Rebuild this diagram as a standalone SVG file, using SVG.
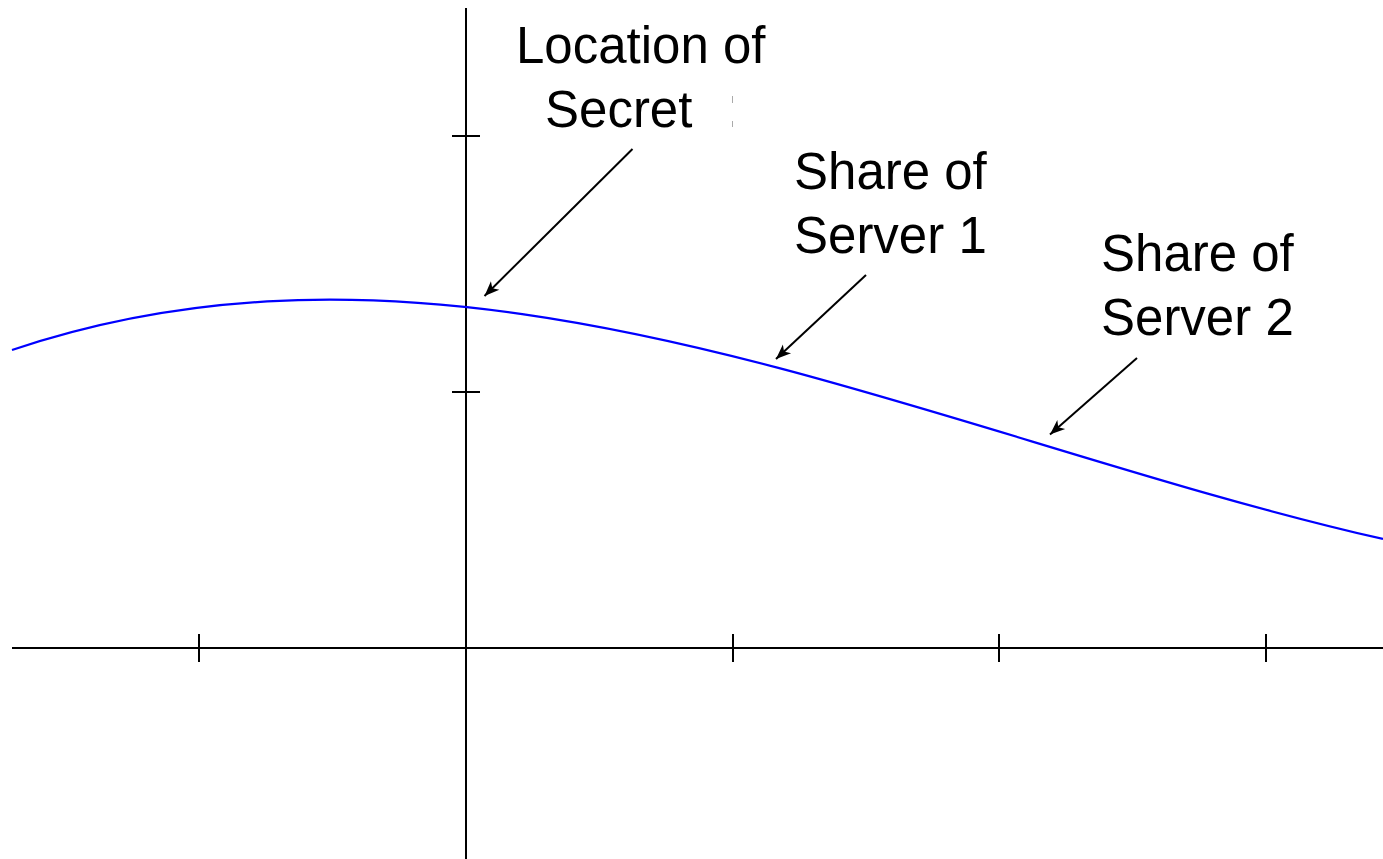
<svg xmlns="http://www.w3.org/2000/svg" width="1383" height="859" viewBox="0 0 1383 859">
  <style>
    .axis { stroke: #000; stroke-width: 2; fill: none; }
    .tick { stroke: #000; stroke-width: 2; fill: none; }
    .curve { stroke: #0000ff; stroke-width: 2.2; fill: none; }
    .arrow { stroke: #000; stroke-width: 2; fill: none; marker-end: url(#ah); }
    .lbl { font-family: "Liberation Sans", Arial, sans-serif; font-size: 51px; fill: #000; }
  </style>
  <defs>
    <marker id="ah" markerUnits="userSpaceOnUse" markerWidth="20" markerHeight="14" viewBox="-16 -7 18 14" refX="0" refY="0" orient="auto">
      <path d="M0,0 L-15,-6 L-11,0 L-15,6 z" fill="#000"/>
    </marker>
  </defs>
  <rect width="1383" height="859" fill="#fff"/>

  <g id="axes">
    <line class="axis" x1="466" y1="8" x2="466" y2="859"/>
    <line class="axis" x1="12" y1="648" x2="1383" y2="648"/>
    <line class="tick" x1="452" y1="136" x2="480" y2="136"/>
    <line class="tick" x1="452" y1="392" x2="480" y2="392"/>
    <line class="tick" x1="452" y1="648" x2="480" y2="648"/>
    <line class="tick" x1="199" y1="634" x2="199" y2="662"/>
    <line class="tick" x1="733" y1="634" x2="733" y2="662"/>
    <line class="tick" x1="999" y1="634" x2="999" y2="662"/>
    <line class="tick" x1="1266" y1="634" x2="1266" y2="662"/>
  </g>

  <g id="curve">
    <path class="curve" d="M12,350 C469,196 926,435 1383,539"/>
  </g>

  <g id="label-secret">
    <text class="lbl" x="516" y="63">Location of</text>
    <text class="lbl" x="545" y="127">Secret</text>
    <line x1="732.5" y1="96" x2="732.5" y2="103" stroke="#aaa" stroke-width="1"/>
    <line x1="732.5" y1="121" x2="732.5" y2="127" stroke="#aaa" stroke-width="1"/>
  </g>
  <g id="label-server1">
    <text class="lbl" x="794" y="189">Share of</text>
    <text class="lbl" x="794" y="253">Server 1</text>
  </g>
  <g id="label-server2">
    <text class="lbl" x="1101" y="271">Share of</text>
    <text class="lbl" x="1101" y="335">Server 2</text>
  </g>

  <g id="connectors">
    <line class="arrow" x1="632.5" y1="149" x2="484.5" y2="296"/>
    <line class="arrow" x1="866" y1="275" x2="776" y2="359"/>
    <line class="arrow" x1="1137" y1="358" x2="1050" y2="434.5"/>
  </g>
</svg>
